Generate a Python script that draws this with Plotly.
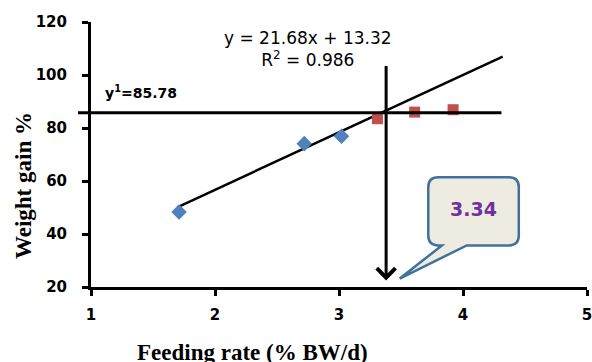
import plotly.graph_objects as go

# ---- data ----
blue_x = [1.71, 2.72, 3.02]
blue_y = [48.3, 74.1, 76.9]
red_x = [3.31, 3.61, 3.92]
red_y = [83.5, 86.0, 86.9]
slope, intercept = 21.68, 13.32
trend_x = [1.70, 4.32]
trend_y = [slope * v + intercept for v in trend_x]
y_target = 85.78
x_cross = 3.38
arrow_top, arrow_tip = 104.0, 22.5
x_ticks = [1, 2, 3, 4, 5]
y_ticks = [20, 40, 60, 80, 100, 120]
callout_label = "3.34"
eq_text = "y = 21.68x + 13.32<br>R<sup>2</sup> = 0.986"
hline_label = "y<sup>1</sup>=85.78"

# callout geometry (data units)
bx0, bx1, by0, by1 = 3.72, 4.45, 35.7, 61.4
rx, ry = 0.08, 3.8
tail_a, tail_b = 3.83, 4.03
tip_x, tip_y = 3.49, 23.2

PL, PT, PW, PH = 91, 22, 496, 265  # plot area in window pixels


def px(wx):
    return (wx - PL) / PW


def py(wy):
    return (PT + PH - wy) / PH


fig = go.Figure()
fig.add_trace(go.Scatter(x=trend_x, y=trend_y, mode="lines",
                         line=dict(color="black", width=2.5), showlegend=False))
fig.add_trace(go.Scatter(x=blue_x, y=blue_y, mode="markers",
                         marker=dict(symbol="diamond", size=12, color="#4F81BD"),
                         showlegend=False))
fig.add_trace(go.Scatter(x=red_x, y=red_y, mode="markers",
                         marker=dict(symbol="square", size=11, color="#C0504D"),
                         showlegend=False))

xr = [1, 5]


def to_paper(v):
    return (v - xr[0]) / (xr[1] - xr[0])


# horizontal target line
fig.add_shape(type="line", xref="paper", yref="y", x0=px(78), x1=to_paper(4.31),
              y0=y_target, y1=y_target, line=dict(color="black", width=3), layer="above")

# callout box path
path = (f"M{bx0+rx},{by1} L{bx1-rx},{by1} Q{bx1},{by1} {bx1},{by1-ry} "
        f"L{bx1},{by0+ry} Q{bx1},{by0} {bx1-rx},{by0} "
        f"L{tail_b},{by0} L{tip_x},{tip_y} L{tail_a},{by0} "
        f"L{bx0+rx},{by0} Q{bx0},{by0} {bx0},{by0+ry} "
        f"L{bx0},{by1-ry} Q{bx0},{by1} {bx0+rx},{by1} Z")
fig.add_shape(type="path", xref="x", yref="y", path=path,
              fillcolor="#EEECE1", line=dict(color="#41719C", width=2.5), layer="above")

fig.add_annotation(x=(bx0 + bx1) / 2, y=(by0 + by1) / 2 + 1, text=f"<b>{callout_label}</b>",
                   xanchor="center", yanchor="middle",
                   showarrow=False, font=dict(family="DejaVu Sans", size=19, color="#7030A0"))

# vertical arrow
fig.add_annotation(x=x_cross, y=arrow_tip, ax=x_cross, ay=arrow_top, axref="x", ayref="y",
                   xref="x", yref="y", showarrow=True, arrowhead=4, arrowwidth=3,
                   arrowsize=1.2, arrowcolor="black", text="")

# equation
fig.add_annotation(xref="paper", yref="paper", x=px(308), y=py(49),
                   xanchor="center", yanchor="middle",
                   text=eq_text, showarrow=False, align="center",
                   font=dict(family="DejaVu Sans", size=17, color="black"))

# y1 label
fig.add_annotation(xref="paper", yref="paper", x=px(103), y=py(92), xanchor="left",
                   yanchor="middle", text=f"<b>{hline_label}</b>", showarrow=False,
                   font=dict(family="DejaVu Sans", size=14, color="black"))

# axis titles
fig.add_annotation(xref="paper", yref="paper", x=px(252), y=py(352),
                   xanchor="center", yanchor="middle",
                   text="<b>Feeding rate (% BW/d)</b>", showarrow=False,
                   font=dict(family="Liberation Serif", size=23, color="black"))
fig.add_annotation(xref="paper", yref="paper", x=px(23), y=py(186), textangle=-90,
                   xanchor="center", yanchor="middle",
                   text="<b>Weight gain %</b>", showarrow=False,
                   font=dict(family="Liberation Serif", size=23, color="black"))

tickfont = dict(family="DejaVu Sans", size=15, color="black", weight="bold")
fig.update_xaxes(range=xr, tickvals=x_ticks, ticktext=[str(v) for v in x_ticks],
                 showgrid=False, zeroline=False, showline=True, linecolor="black",
                 linewidth=3, ticks="outside", ticklen=6, tickwidth=3, tickcolor="black",
                 ticklabelstandoff=6, automargin=False, ticklabeloverflow="allow",
                 tickfont=tickfont)
fig.update_yaxes(range=[20, 120], tickvals=y_ticks, showgrid=False, zeroline=False,
                 showline=True, linecolor="black", linewidth=3, ticks="outside",
                 ticklen=6, tickwidth=3, tickcolor="black", ticklabelstandoff=12,
                 automargin=False, tickfont=tickfont)

W, H = 592, 362
fig.update_layout(width=W, height=H,
                  margin=dict(l=PL, r=W - PL - PW, t=PT, b=H - PT - PH),
                  plot_bgcolor="white", paper_bgcolor="white", showlegend=False)

fig.write_html("out.html", config={"displayModeBar": False},
               post_script="document.body.style.margin='0';"
                           "document.body.style.overflow='hidden';")
